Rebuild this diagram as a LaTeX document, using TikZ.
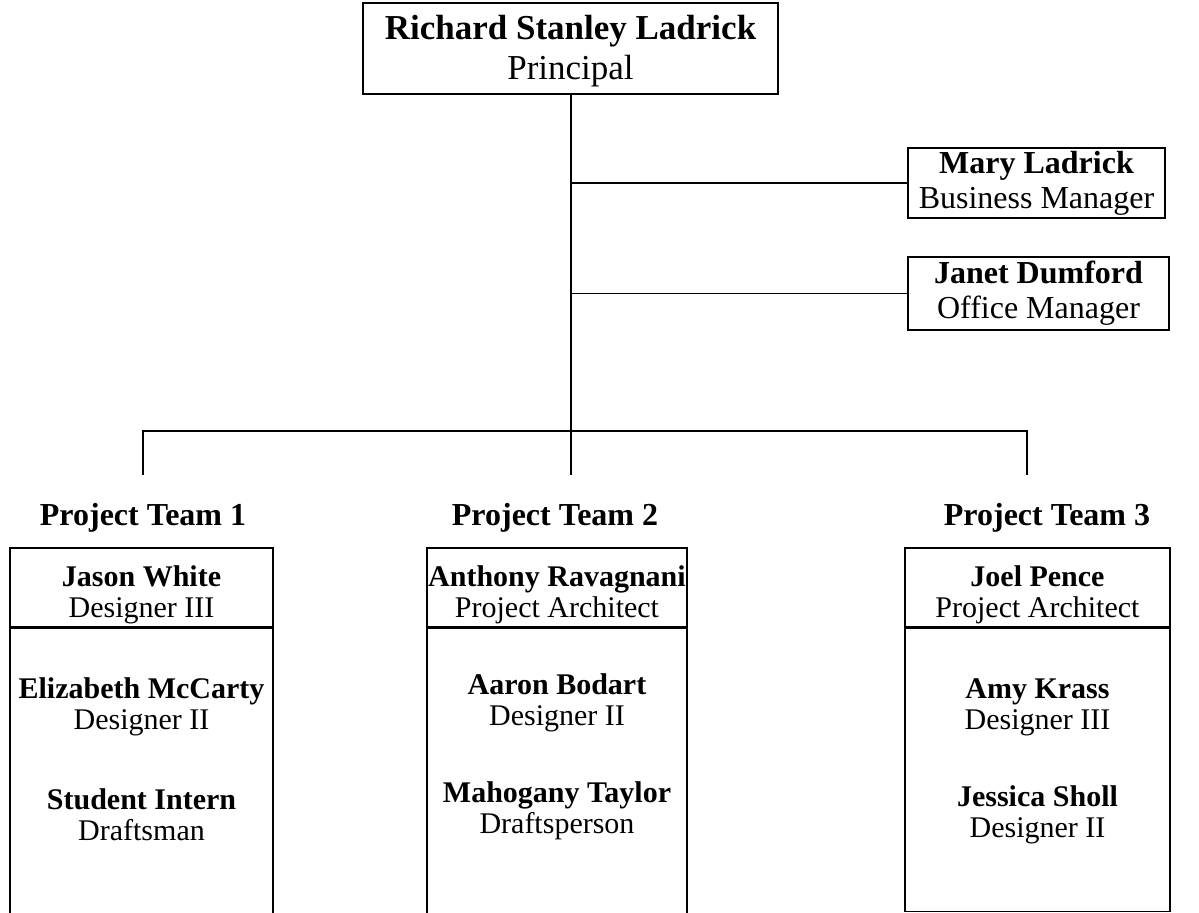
\documentclass[tikz,border=0pt]{standalone}
\usepackage{fontspec}
\setmainfont{Liberation Serif}
\usetikzlibrary{positioning}

\begin{document}
\begin{tikzpicture}[x=0.5pt,y=-0.5pt,line width=0.8pt,node distance=54pt,on grid,
  box/.style={draw,rectangle,inner sep=0pt,align=center},
  big/.style={font=\fontsize{17.5}{20}\selectfont},
  mid/.style={font=\fontsize{16}{17.5}\selectfont},
  small/.style={font=\fontsize{15}{15.5}\selectfont,align=center},
  team/.style={font=\fontsize{16}{17}\selectfont\bfseries}]
  \clip (0,0) rectangle (1199,912);
  \node[box,big,minimum width=207.5pt,minimum height=45.5pt,text height=35pt] (boss) at (570.5,48.5) {\textbf{Richard Stanley Ladrick}\\Principal};
  \node[box,mid,minimum width=128.5pt,minimum height=35pt] (bm) at (1036.5,183) {\textbf{Mary Ladrick}\\Business Manager};
  \node[box,mid,minimum width=130.5pt,minimum height=36.5pt] (om) at (1038.5,293.5) {\textbf{Janet Dumford}\\Office Manager};
  \coordinate (d_1) at (143,475);
  \coordinate (d_2) at (571,475);
  \coordinate (d_3) at (1027,475);
  \coordinate (bus) at (571,431);
  \draw (boss.south -| d_2) -- (d_2);
  \draw (d_2 |- bm.west) -- (bm.west);
  \draw (d_2 |- om.west) -- (om.west);
  \draw (d_1) -- (d_1 |- bus) -- (d_3 |- bus) -- (d_3);

  % project teams
  \node[team] (pt_1) at (143,518) {Project Team 1};
  \node[team] (pt_2) at (555,518) {Project Team 2};
  \node[team] (pt_3) at (1047,518) {Project Team 3};

  \node[box,small,minimum width=131.5pt,minimum height=39.5pt,text height=33pt] (h_1) at (141.5,587.5) {\textbf{Jason White}\\Designer III};
  \node[box,small,minimum width=130pt,minimum height=39.5pt,text height=33pt] (h_2) at (557,587.5) {\textbf{Anthony Ravagnani}\\Project Architect};
  \node[box,small,minimum width=132.5pt,minimum height=39.5pt,text height=33pt] (h_3) at (1037.5,587.5) {\textbf{Joel Pence}\\Project Architect};
  \node[box,minimum width=131.5pt,minimum height=170pt,anchor=north] (b_1) at (h_1.south) {};
  \node[box,minimum width=130pt,minimum height=170pt,anchor=north] (b_2) at (h_2.south) {};
  \node[box,minimum width=132.5pt,minimum height=141.5pt,anchor=north] (b_3) at (h_3.south) {};

  \node[small] (e_1) at (141.5,707) {\textbf{Elizabeth McCarty}\\Designer II};
  \node[small] (s_1) [below=of e_1] {\textbf{Student Intern}\\Draftsman};
  \node[small] (a_2) at (557,703) {\textbf{Aaron Bodart}\\Designer II};
  \node[small] (m_2) [below=of a_2] {\textbf{Mahogany Taylor}\\Draftsperson};
  \node[small] (a_3) at (1037.5,707) {\textbf{Amy Krass}\\Designer III};
  \node[small] (j_3) [below=of a_3] {\textbf{Jessica Sholl}\\Designer II};
\end{tikzpicture}
\end{document}
